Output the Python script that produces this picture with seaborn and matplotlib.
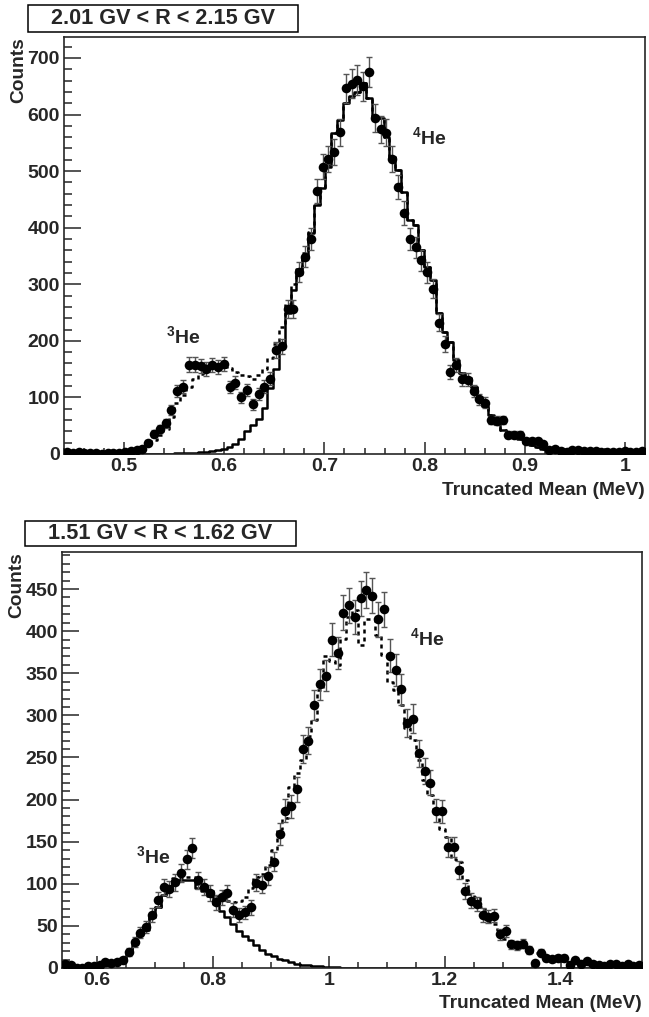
import numpy as np
import pandas as pd
import matplotlib
matplotlib.use('Agg')
import matplotlib.pyplot as plt
import matplotlib.ticker as mticker
from matplotlib.patches import Rectangle
import seaborn as sns

# histogram binning (100 bins per panel)
top_range = (0.44, 1.02)
bottom_range = (0.54, 1.54)
n_bins = 100

top_title = '2.01 GV < R < 2.15 GV'
bottom_title = '1.51 GV < R < 1.62 GV'

# upper panel: data, 4He template (solid), total fit (dotted)
top_data = [3, 2, 3, 2, 2, 1, 0, 1, 1, 2,
            3, 6, 7, 8,
            20, 36, 44, 54, 78, 111, 119, 158, 158, 156, 151, 157, 153, 159,
            118, 126, 100, 113, 88, 106, 119, 133, 184, 190, 256, 256,
            322, 349, 380, 465, 508, 521, 534, 569, 646, 654, 661, 650, 675,
            594, 574, 568, 522, 472, 426, 380, 365, 342, 321, 292, 232,
            195, 145, 157, 132, 131, 112, 97, 91, 60, 59, 60, 34, 34, 34,
            23, 23, 23, 17, 7, 8,
            6, 4, 7, 7, 5, 6, 6, 4, 3, 4, 3, 5, 3, 4, 5]
top_solid = [0] * 18 + [
    0.5, 1, 1, 2, 2, 3, 4, 5, 7, 9, 13, 18, 26, 40, 52, 62, 82, 116, 150,
    190, 249, 290,
    319, 350, 390, 440, 470, 508, 567, 590, 620, 632, 640, 655, 630, 596,
    594, 560, 525, 502, 463, 413, 405, 360, 331, 307, 249,
    216, 198, 166, 143, 134, 119, 101, 84, 69, 53, 42, 38, 30, 26, 20, 16,
    12, 9, 7, 5,
    4, 3, 3, 2, 2, 1, 1, 1, 1, 1, 0, 0, 0, 0, 0]
top_dotted = [1, 1, 1, 1, 1, 1, 1, 1, 2, 2,
              3, 5, 8, 12, 17, 24, 33, 45, 65, 90, 105, 118, 133, 142, 148,
              154, 155, 154, 152, 145, 140, 138, 133, 140, 150, 170, 195, 225,
              265, 300,
              327, 355, 393, 442, 472, 510, 568, 591, 620, 632, 640, 655, 630,
              596, 594, 560, 525, 502, 463, 413, 405, 360, 331, 307, 249,
              216, 198, 166, 143, 134, 119, 101, 84, 69, 53, 42, 38, 30, 26,
              20, 16, 12, 9, 7, 5,
              4, 3, 3, 2, 2, 1, 1, 1, 1, 1, 0, 0, 0, 0, 0]

# lower panel: data, 3He template (solid), total fit (dotted)
bottom_data = [5, 3, 0, 0, 2, 2, 4, 7, 6, 7,
               10, 19, 31, 42, 49, 63, 81, 96, 94, 102, 113, 129, 143, 104,
               96, 89, 78, 84, 89, 69, 63, 66, 72, 101, 99, 109, 126, 159,
               187, 192, 212,
               260, 270, 312, 337, 347, 390, 374, 422, 431, 417, 439, 449,
               442, 414, 426, 371, 354, 331, 291, 296, 255, 234, 220, 187,
               186, 144, 144, 116, 91, 80,
               76, 63, 61, 62, 40, 44, 28, 27, 29, 21, 6, 18, 12, 11, 12, 12,
               4, 9, 5, 8, 5, 3, 2, 5, 5, 2, 5, 2, 4]
bottom_solid = [3, 2, 1, 1, 1, 2, 3, 4, 6, 8, 12, 18, 28,
                40, 45, 61, 73, 87, 93, 105, 105, 105, 104, 95, 92, 86, 76,
                68, 60, 52, 44, 38, 33, 27, 21, 17, 14, 11, 9, 7, 5, 4, 3, 2,
                2, 1, 1, 1, 0.5, 0.5] + [0] * 50
bottom_dotted = [3, 2, 1, 1, 1, 2, 3, 4, 6, 8, 12, 18, 28, 40, 45, 61, 73, 87,
                 95, 107, 107, 108, 108, 100, 98, 93, 86, 82, 80, 78, 79, 84,
                 95, 108, 112, 122,
                 140, 165, 178, 215, 232, 247, 275, 294, 330, 370, 365, 360,
                 391, 417, 425, 384, 415, 415, 395, 372, 340, 330, 312, 285,
                 271, 247, 223,
                 205, 185, 165, 156, 130, 126, 105, 88, 84, 73, 55, 52, 45, 35,
                 32, 26, 24, 19, 18, 14, 12, 10, 9, 8, 7, 6, 5, 4, 4, 3, 3, 2,
                 2, 2, 1, 1, 1]

sns.set_style('ticks')
plt.rcParams['font.family'] = ['Liberation Sans', 'DejaVu Sans']
plt.rcParams['font.weight'] = 'bold'
plt.rcParams['mathtext.fontset'] = 'custom'
plt.rcParams['mathtext.rm'] = 'Liberation Sans:bold'
plt.rcParams['axes.linewidth'] = 1.2


def draw_panel(ax, xrange, data, solid, dotted):
    edges = np.linspace(xrange[0], xrange[1], n_bins + 1)
    df = pd.DataFrame({'x': 0.5 * (edges[:-1] + edges[1:]),
                       'data': np.asarray(data, dtype=float),
                       'solid': solid, 'dotted': dotted})
    sns.histplot(data=df, x='x', weights='solid', bins=list(edges),
                 element='step', fill=False, color='black', linewidth=1.8,
                 ax=ax)
    sns.histplot(data=df, x='x', weights='dotted', bins=list(edges),
                 element='step', fill=False, color='black', linewidth=1.8,
                 linestyle=(0, (1.6, 1.6)), ax=ax)
    ax.errorbar(df['x'], df['data'], yerr=np.sqrt(df['data']), fmt='none',
                ecolor='#555555', elinewidth=1.0, capsize=2.0, capthick=1.0,
                zorder=3)
    sns.scatterplot(data=df, x='x', y='data', color='black', s=48,
                    linewidth=0, ax=ax, zorder=4)
    ax.set_xlim(*xrange)


def style_axes(ax, ymax, xmaj, xmin, ymaj, ymin, ylab_x, xlab_y):
    ax.set_ylim(0, ymax)
    ax.xaxis.set_major_locator(mticker.MultipleLocator(xmaj))
    ax.xaxis.set_minor_locator(mticker.MultipleLocator(xmin))
    ax.yaxis.set_major_locator(mticker.MultipleLocator(ymaj))
    ax.yaxis.set_minor_locator(mticker.MultipleLocator(ymin))
    ax.xaxis.set_major_formatter(mticker.FormatStrFormatter('%g'))
    ax.tick_params(axis='both', which='both', direction='in', top=False,
                   right=False, width=1.1, labelsize=14, pad=3)
    ax.tick_params(axis='y', which='major', length=12.5)
    ax.tick_params(axis='y', which='minor', length=6)
    ax.tick_params(axis='x', which='major', length=8.5)
    ax.tick_params(axis='x', which='minor', length=4.5)
    for lab in ax.get_xticklabels() + ax.get_yticklabels():
        lab.set_fontweight('bold')
    ax.set_ylabel('Counts', fontsize=13.8, fontweight='bold', loc='top')
    ax.set_xlabel('Truncated Mean (MeV)', fontsize=13.8, fontweight='bold',
                  loc='right')
    ax.yaxis.set_label_coords(ylab_x, 1.0)
    ax.xaxis.set_label_coords(1.0, xlab_y)


fig = plt.figure(figsize=(6.49, 10.17), dpi=100)
W, H = 649.0, 1017.0

ax1 = fig.add_axes([64 / W, 1 - 454 / H, 581 / W, 417 / H])
draw_panel(ax1, top_range, top_data, top_solid, top_dotted)
style_axes(ax1, 737, 0.1, 0.02, 100, 20, -0.064, -0.066)
ax1.text(0.5586, 208, r'$^{3}$He', ha='center', va='center', fontsize=14,
         fontweight='bold')
ax1.text(0.805, 559, r'$^{4}$He', ha='center', va='center', fontsize=14,
         fontweight='bold')

ax2 = fig.add_axes([62 / W, 1 - 968 / H, 580 / W, 416 / H])
draw_panel(ax2, bottom_range, bottom_data, bottom_solid, bottom_dotted)
style_axes(ax2, 494, 0.2, 0.05, 50, 10, -0.064, -0.064)
ax2.text(0.697, 132, r'$^{3}$He', ha='center', va='center', fontsize=14,
         fontweight='bold')
ax2.text(1.169, 391, r'$^{4}$He', ha='center', va='center', fontsize=14,
         fontweight='bold')

# title boxes
for (x0, y0, bw, bh), title in [((28, 5, 270, 27), top_title),
                                ((25, 521, 271, 25), bottom_title)]:
    fig.add_artist(Rectangle((x0 / W, 1 - (y0 + bh) / H), bw / W, bh / H,
                             transform=fig.transFigure, fill=False,
                             edgecolor='black', linewidth=1.1))
    fig.text((x0 + bw / 2) / W, 1 - (y0 + bh / 2) / H, title, ha='center',
             va='center', fontsize=15.6, fontweight='bold')

fig.savefig('out.png', dpi=100)
